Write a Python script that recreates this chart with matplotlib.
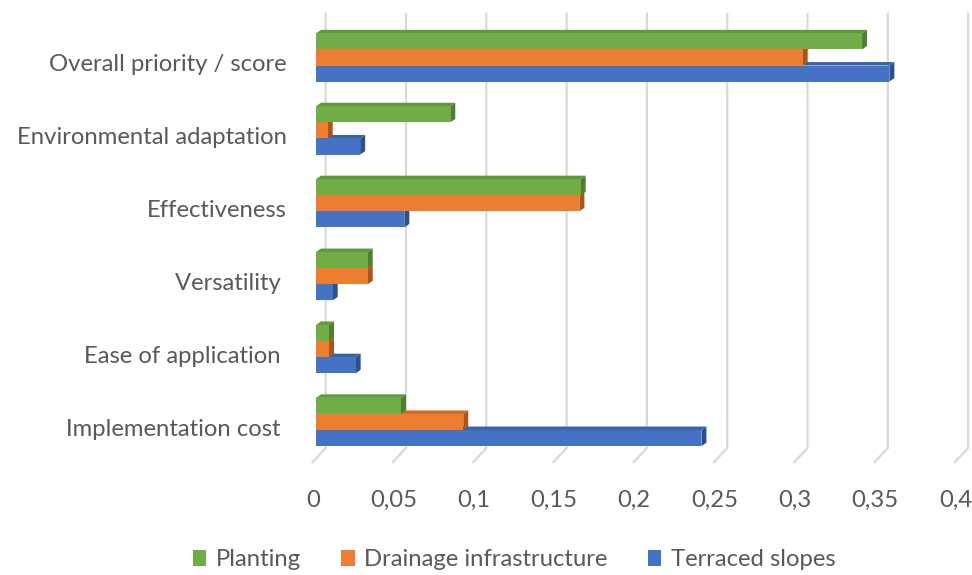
import matplotlib

matplotlib.use("Agg")
import matplotlib.pyplot as plt
import numpy as np
from matplotlib.patches import Patch, Polygon
from matplotlib.transforms import ScaledTranslation

plt.rcParams["font.family"] = ["Lato", "DejaVu Sans"]

# ── data ─────────────────────────────────────────────────────────────────────
CATEGORIES = [
    "Overall priority / score",
    "Environmental adaptation",
    "Effectiveness",
    "Versatility ",
    "Ease of application ",
    "Implementation cost ",
]
SERIES = ["Planting", "Drainage infrastructure", "Terraced slopes"]
PLANTING = [0.340, 0.0836, 0.1648, 0.0322, 0.0081, 0.0529]
DRAINAGE = [0.303, 0.0073, 0.164, 0.0322, 0.0081, 0.0917]
TERRACED = [0.357, 0.0275, 0.055, 0.0104, 0.0247, 0.240]
XTICKS = np.arange(0, 0.401, 0.05)

FRONT = ["#70AD47", "#ED7D31", "#4472C4"]
TOP = ["#5E9A3A", "#D36A24", "#3762AE"]
SIDE = ["#4E7F30", "#A9561C", "#2B4F8F"]
TXT = "#595959"
GRIDC = "#D9D9D9"
FS = 17.2

# ── layout in pixels (figure is 972 x 575 at dpi 100) ───────────────────────
W, H = 972, 575
X0_PX, PX_PER_UNIT = 316, 80.3 / 0.05  # bar origin and x scale
Y0_PX, PX_PER_CAT = 57.5, 72.9  # first group centre and group spacing
AX_L, AX_R, AX_T, AX_B = 300, 972, 8, 475


def dx(px):
    return px / PX_PER_UNIT


def dy(px):
    return px / PX_PER_CAT


fig = plt.figure(figsize=(W / 100, H / 100), dpi=100)
ax = fig.add_axes([AX_L / W, 1 - AX_B / H, (AX_R - AX_L) / W, (AX_B - AX_T) / H])
ax.set_xlim(dx(AX_L - X0_PX), dx(AX_R - X0_PX))
ax.set_ylim(dy(AX_B - Y0_PX), dy(AX_T - Y0_PX))
for s in ax.spines.values():
    s.set_visible(False)

# back-wall gridlines with slanted floor segment
top_y, back_y, front_y = dy(12.7 - Y0_PX), dy(448 - Y0_PX), dy(463 - Y0_PX)
for v in XTICKS:
    xb = v + dx(9.7)
    ax.plot([xb, xb, xb - dx(14)], [top_y, back_y, front_y],
            color=GRIDC, lw=1.6, zorder=0, solid_capstyle="butt")

# 3D bars: front face + top face + right side face, bottom series drawn first
bar_h = dy(16.1)
ddx, ddy = dx(5), dy(3.5)
series_vals = [PLANTING, DRAINAGE, TERRACED]
y = np.arange(len(CATEGORIES))
z = 1
for j in [2, 1, 0]:
    yc = y + (j - 1) * bar_h
    vals = series_vals[j]
    ax.barh(yc, vals, height=bar_h, color=FRONT[j], zorder=z + 0.5, lw=0)
    for yy, w in zip(yc, vals):
        yt, yb = yy - bar_h / 2, yy + bar_h / 2
        ax.add_patch(Polygon([(0, yt), (w, yt), (w + ddx, yt - ddy), (ddx, yt - ddy)],
                             closed=True, color=TOP[j], lw=0, zorder=z))
        ax.add_patch(Polygon([(w, yt), (w + ddx, yt - ddy), (w + ddx, yb - ddy), (w, yb)],
                             closed=True, color=SIDE[j], lw=0, zorder=z))
    z += 1

# axes labels
ax.set_yticks(y + 0.075)
ax.set_yticklabels(CATEGORIES, fontsize=FS, color=TXT)
ax.set_xticks(XTICKS)
ax.set_xticklabels([f"{v:g}".replace(".", ",") for v in XTICKS], fontsize=FS, color=TXT)
ax.tick_params(axis="y", length=0, pad=9.4)
ax.tick_params(axis="x", length=0, pad=10.5)
for lab in ax.get_xticklabels():
    lab.set_transform(lab.get_transform() + ScaledTranslation(-0.03, 0, fig.dpi_scale_trans))

handles = [Patch(facecolor=c, edgecolor="none") for c in FRONT]
fig.legend(handles, SERIES, loc="center", bbox_to_anchor=(0.529, 1 - 560 / H), ncol=3,
           frameon=False, fontsize=FS, labelcolor=TXT, handlelength=0.55, handleheight=0.6,
           handletextpad=0.4, columnspacing=1.7)

fig.savefig("out.png", dpi=100)
